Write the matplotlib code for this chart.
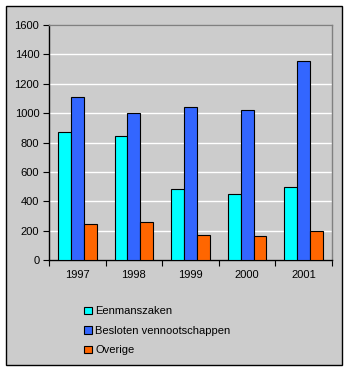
import matplotlib.pyplot as plt
import numpy as np
from matplotlib.patches import Patch, Rectangle

# Data
years = ['1997', '1998', '1999', '2000', '2001']
eenmanszaken = [870, 845, 482, 450, 497]
besloten_bv = [1110, 1000, 1040, 1020, 1355]
overige = [245, 258, 170, 163, 198]

series_names = ['Eenmanszaken', 'Besloten vennootschappen', 'Overige']
colors = ['#00ffff', '#3366ff', '#ff6600']
BG = '#cccccc'

plt.rcParams['font.family'] = ['Liberation Sans', 'DejaVu Sans']
plt.rcParams['font.size'] = 8

W, H = 348, 370
fig = plt.figure(figsize=(W / 100, H / 100), dpi=100)
fig.patch.set_facecolor('white')

# outer chart frame, behind the axes
fig.patches.append(Rectangle((5.5 / W, 1 - 364.5 / H), 336 / W, 359 / H,
                             transform=fig.transFigure, facecolor=BG,
                             edgecolor='black', linewidth=1, zorder=-1))

ax = fig.add_axes([49 / W, 1 - 260 / H, 283 / W, 235 / H])
ax.set_facecolor(BG)

x = np.arange(len(years))
bw = 0.228
for i, (vals, c) in enumerate(zip([eenmanszaken, besloten_bv, overige], colors)):
    ax.bar(x + (i - 1) * bw, vals, bw, color=c, edgecolor='black',
           linewidth=0.8, zorder=3)

ax.set_xlim(-0.5, len(years) - 0.5)
ax.set_ylim(0, 1600)
ax.set_yticks(range(0, 1601, 200))
ax.yaxis.grid(True, color='white', linewidth=1, zorder=1)
ax.set_axisbelow(True)

ax.set_xticks(x)
ax.set_xticklabels(years)
ax.set_xticks(np.arange(-0.5, len(years), 1), minor=True)
ax.tick_params(axis='x', which='major', length=0, pad=7)
ax.tick_params(axis='x', which='minor', length=4, width=0.8, direction='out')
ax.tick_params(axis='y', length=4, width=0.8, direction='out', pad=3)

for side in ['left', 'bottom']:
    ax.spines[side].set_color('black')
    ax.spines[side].set_linewidth(1)
for side in ['top', 'right']:
    ax.spines[side].set_color('#808080')
    ax.spines[side].set_linewidth(1)

handles = [Patch(facecolor=c, edgecolor='black', linewidth=0.8) for c in colors]
fig.legend(handles, series_names, loc='upper left',
           bbox_to_anchor=(80 / W, 1 - 302 / H), frameon=False,
           handlelength=0.7, handleheight=0.7, handletextpad=0.25,
           labelspacing=0.85, borderaxespad=0, fontsize=8)

fig.savefig('out.png', dpi=100, facecolor=fig.get_facecolor())
